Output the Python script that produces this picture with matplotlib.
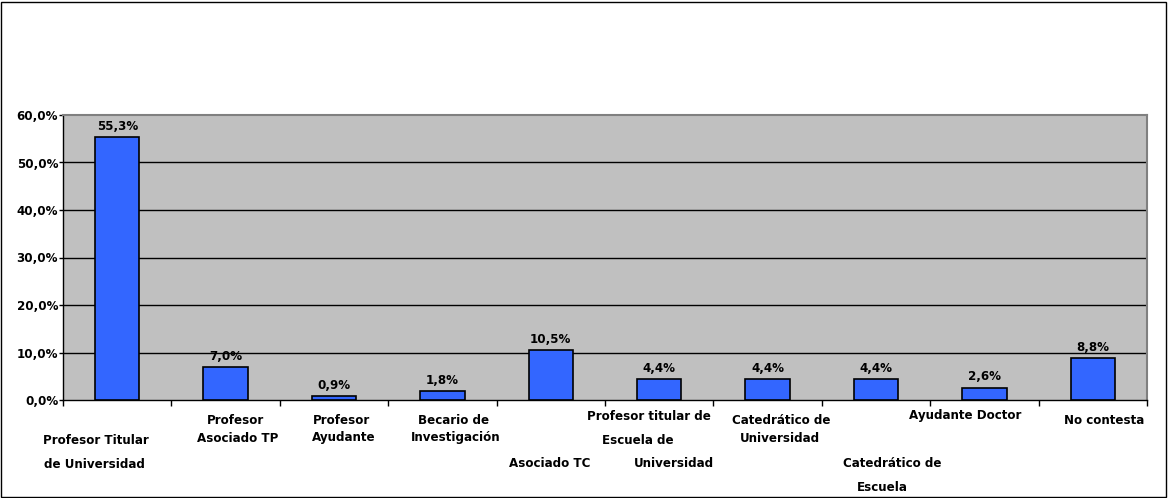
import matplotlib
matplotlib.use("Agg")
import matplotlib.pyplot as plt
from matplotlib.patches import Rectangle
from matplotlib.ticker import FixedLocator, FuncFormatter

categories = [
    "Profesor Titular\nde Universidad",
    "Profesor\nAsociado TP",
    "Profesor\nAyudante",
    "Becario de\nInvestigación",
    "Asociado TC",
    "Profesor titular de\nEscuela de\nUniversidad",
    "Catedrático de\nUniversidad",
    "Catedrático de\nEscuela",
    "Ayudante Doctor",
    "No contesta",
]
values = [55.3, 7.0, 0.9, 1.8, 10.5, 4.4, 4.4, 4.4, 2.6, 8.8]
yticks = [0, 10, 20, 30, 40, 50, 60]

# layout of staggered category label lines: (x center px, y center px) per line
label_layout = [
    [(96, 440), (94, 464)],
    [(235, 420), (238, 438)],
    [(342, 420), (344, 438)],
    [(454, 421), (456, 438)],
    [(550, 463)],
    [(649, 416), (638, 440), (674, 463)],
    [(781, 420), (780, 438)],
    [(892, 463), (882, 487)],
    [(965, 416)],
    [(1104, 420)],
]

W, H = 1168, 498
fig = plt.figure(figsize=(W / 100, H / 100), dpi=100)
plt.rcParams['font.family'] = ['DejaVu Sans']
FS = 8.6

left, right, top, bottom = 63, 1147, 115, 400
ax = fig.add_axes([left / W, 1 - bottom / H, (right - left) / W, (bottom - top) / H])
ax.set_facecolor('#C0C0C0')

n = len(values)
x = list(range(n))
bars = ax.bar(x, values, width=0.41, color='#3366FF', edgecolor='black', linewidth=1.2, zorder=3)
ax.set_xlim(-0.5, n - 0.5)
ax.set_ylim(0, 60)

for t in yticks[1:-1]:
    ax.axhline(t, color='black', linewidth=1, zorder=2)

ax.yaxis.set_major_locator(FixedLocator(yticks))
ax.yaxis.set_major_formatter(FuncFormatter(lambda v, p: f"{v:.1f}".replace('.', ',') + '%'))
ax.tick_params(axis='y', length=3, width=1, direction='out', pad=0.5, labelsize=FS)
for lab in ax.get_yticklabels():
    lab.set_fontweight('bold')

ax.xaxis.set_major_locator(FixedLocator([i + 0.5 for i in range(n - 1)] + [-0.5, n - 0.5]))
ax.tick_params(axis='x', length=4, width=1, direction='out', labelbottom=False)

for s in ['left', 'bottom']:
    ax.spines[s].set_color('black')
    ax.spines[s].set_linewidth(1)
for s in ['top', 'right']:
    ax.spines[s].set_color('#808080')
    ax.spines[s].set_linewidth(1.5)

for xi, v in zip(x, values):
    ax.annotate(f"{v:.1f}".replace('.', ',') + '%', (xi, v), xytext=(0, 3),
                textcoords='offset points', ha='center', va='bottom',
                fontsize=FS, fontweight='bold', color='black')

for name, lay in zip(categories, label_layout):
    for line, (px, py) in zip(name.split('\n'), lay):
        fig.text(px / W, 1 - py / H, line, ha='center', va='center',
                 fontsize=FS, fontweight='bold', color='black')

fig.patches.append(Rectangle((1 / W, 1 / H), (W - 3) / W, (H - 3) / H,
                             transform=fig.transFigure, fill=False,
                             edgecolor='black', linewidth=1))

fig.savefig('out.png', dpi=100)
